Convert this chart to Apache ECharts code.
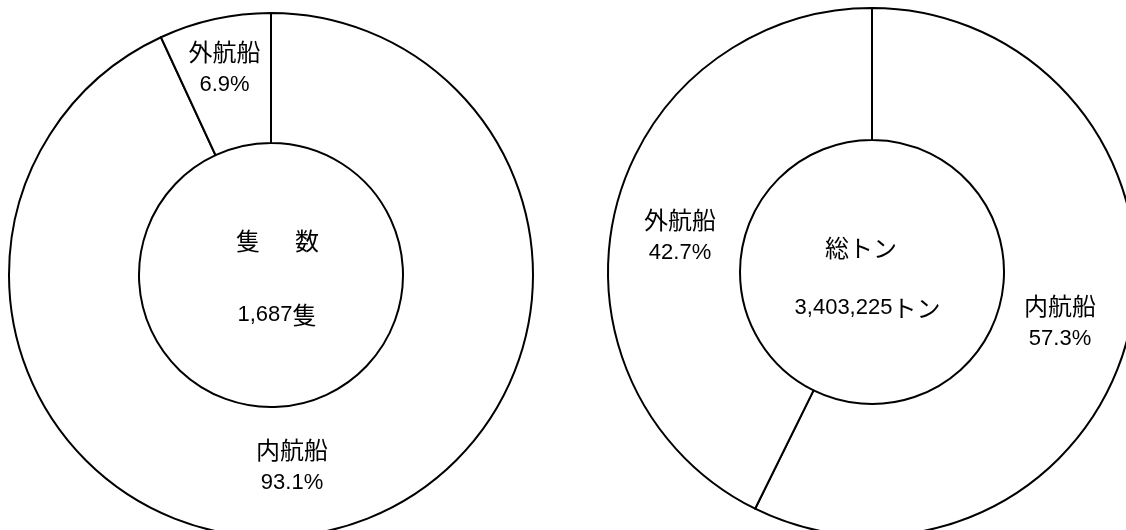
<!DOCTYPE html>
<html>
<head>
<meta charset="utf-8">
<script src="https://cdn.jsdelivr.net/npm/echarts@6/dist/echarts.min.js"></script>
<style>
html,body{margin:0;padding:0;background:#fff;}
#chart{width:1126px;height:530px;}
</style>
</head>
<body>
<div id="chart"></div>
<script>
// ---- data ----
var categories = ['内航船', '外航船'];
var shipCountShare = [93.1, 6.9];        // 隻数 (%)
var grossTonShare = [57.3, 42.7];        // 総トン (%)
var leftCenterTitle = '隻　  数';
var leftCenterTotal = ['1,687', '隻'];
var rightCenterTitle = '総トン';
var rightCenterTotal = ['3,403,225', 'トン'];

// ---- layout (styles / positions only) ----
var CJK = "'Noto Sans CJK JP',sans-serif";
var NUM = "'Liberation Sans','Noto Sans CJK JP',sans-serif";
var leftPie = { center: [271, 275], radius: [132, 262] };
var rightPie = { center: [872, 272], radius: [132, 264] };
// label centres relative to pie centre, by data index
var leftLabelOffsets = [[21, 191], [-46.5, -207]];
var rightLabelOffsets = [[188, 50], [-192, -36]];

var richStyles = {
  n: { fontFamily: CJK, fontSize: 24, lineHeight: 33, color: '#000' },
  p: { fontFamily: NUM, fontSize: 22, lineHeight: 33, color: '#000' }
};

function makeData(vals) {
  return categories.map(function (c, i) { return { name: c, value: vals[i] }; });
}

function makeSeries(pie, vals, offsets) {
  return {
    type: 'pie',
    center: pie.center,
    radius: pie.radius,
    startAngle: 90,
    clockwise: true,
    silent: true,
    animation: false,
    avoidLabelOverlap: false,
    itemStyle: { color: '#fff', borderColor: '#000', borderWidth: 2 },
    emphasis: { disabled: true },
    label: {
      show: true,
      position: 'inside',
      color: '#000',
      formatter: function (p) { return '{n|' + p.name + '}\n{p|' + p.value + '%}'; },
      rich: richStyles
    },
    labelLine: { show: false },
    labelLayout: function (params) {
      var o = offsets[params.dataIndex];
      return {
        x: pie.center[0] + o[0],
        y: pie.center[1] + o[1],
        align: 'center',
        verticalAlign: 'middle'
      };
    },
    data: makeData(vals)
  };
}

function centerText(x, y, txt) {
  return {
    type: 'text',
    x: x, y: y,
    silent: true,
    style: {
      text: txt,
      fill: '#000',
      align: 'center',
      verticalAlign: 'middle',
      rich: richStyles
    }
  };
}

var chart = echarts.init(document.getElementById('chart'), null, { renderer: 'canvas' });
chart.setOption({
  backgroundColor: '#fff',
  animation: false,
  series: [
    makeSeries(leftPie, shipCountShare, leftLabelOffsets),
    makeSeries(rightPie, grossTonShare, rightLabelOffsets)
  ],
  graphic: [
    centerText(277.5, 241, '{n|' + leftCenterTitle + '}'),
    centerText(277, 315, '{p|' + leftCenterTotal[0] + '}{n|' + leftCenterTotal[1] + '}'),
    centerText(861, 247.5, '{n|' + rightCenterTitle + '}'),
    centerText(867.5, 308, '{p|' + rightCenterTotal[0] + '}{n|' + rightCenterTotal[1] + '}')
  ]
});
</script>
</body>
</html>
